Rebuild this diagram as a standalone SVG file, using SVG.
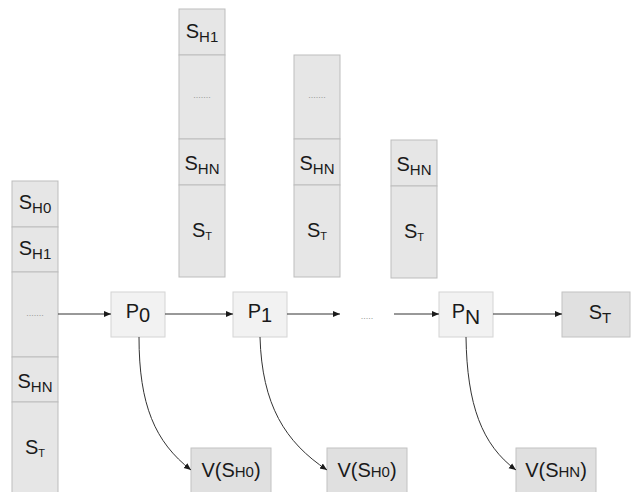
<svg xmlns="http://www.w3.org/2000/svg" width="632" height="492" viewBox="0 0 632 492">
<defs>
<marker id="arr" markerUnits="userSpaceOnUse" markerWidth="8" markerHeight="8" refX="7" refY="3.5" orient="auto">
<path d="M0,0.5 L7,3.5 L0,6.5 Z" fill="#1a1a1a"/>
</marker>
<style>
.cell{fill:#e6e6e6;stroke:#bdbdbd;stroke-width:1}
.proc{fill:#f2f2f2;stroke:#d4d4d4;stroke-width:1}
.box{fill:#e0e0e0;stroke:#c2c2c2;stroke-width:1}
text{font-family:"Liberation Sans",Arial,sans-serif;fill:#1a1a1a;text-anchor:middle}
.m{font-size:20px}
.s{font-size:15px}
.t{font-size:11px}
.dots{font-size:9px;fill:#9a9a9a}
.edge{fill:none;stroke:#333;stroke-width:1;marker-end:url(#arr)}
</style>
</defs>
<rect width="632" height="492" fill="#ffffff"/>

<g id="stack0">
<rect class="cell" x="12" y="181" width="46" height="46"/>
<rect class="cell" x="12" y="227" width="46" height="45"/>
<rect class="cell" x="12" y="272" width="46" height="85"/>
<rect class="cell" x="12" y="357" width="46" height="45"/>
<rect class="cell" x="12" y="402" width="46" height="92"/>
<text class="m" x="35" y="209">S<tspan class="s" dy="4">H0</tspan></text>
<text class="m" x="35" y="255">S<tspan class="s" dy="4">H1</tspan></text>
<text class="dots" x="35" y="316">.......</text>
<text class="m" x="35" y="388">S<tspan class="s" dy="4">HN</tspan></text>
<text class="m" x="35" y="454">S<tspan class="t" dy="3">T</tspan></text>
</g>

<g id="stack1">
<rect class="cell" x="179" y="9" width="46" height="46"/>
<rect class="cell" x="179" y="55" width="46" height="84"/>
<rect class="cell" x="179" y="139" width="46" height="46"/>
<rect class="cell" x="179" y="185" width="46" height="92"/>
<text class="m" x="202" y="38">S<tspan class="s" dy="4">H1</tspan></text>
<text class="dots" x="202" y="98">.......</text>
<text class="m" x="202" y="170">S<tspan class="s" dy="4">HN</tspan></text>
<text class="m" x="202" y="237">S<tspan class="t" dy="3">T</tspan></text>
</g>

<g id="stack2">
<rect class="cell" x="294" y="55" width="46" height="84"/>
<rect class="cell" x="294" y="139" width="46" height="46"/>
<rect class="cell" x="294" y="185" width="46" height="92"/>
<text class="dots" x="317" y="98">.......</text>
<text class="m" x="317" y="170">S<tspan class="s" dy="4">HN</tspan></text>
<text class="m" x="317" y="237">S<tspan class="t" dy="3">T</tspan></text>
</g>

<g id="stack3">
<rect class="cell" x="391" y="140" width="46" height="46"/>
<rect class="cell" x="391" y="186" width="46" height="92"/>
<text class="m" x="414" y="171">S<tspan class="s" dy="4">HN</tspan></text>
<text class="m" x="414" y="238">S<tspan class="t" dy="3">T</tspan></text>
</g>

<g id="p0">
<rect class="proc" x="111" y="292" width="54" height="45"/>
<text class="m" x="138" y="318">P<tspan dy="4">0</tspan></text>
</g>
<g id="p1">
<rect class="proc" x="233" y="292" width="54" height="45"/>
<text class="m" x="260" y="318">P<tspan dy="4">1</tspan></text>
</g>
<g id="ellipsis">
<text class="dots" x="367" y="319">.....</text>
</g>
<g id="pN">
<rect class="proc" x="439" y="292" width="54" height="45"/>
<text class="m" x="466" y="318">P<tspan font-size="21px" dy="6">N</tspan></text>
</g>
<g id="sT">
<rect class="box" x="562" y="292" width="68" height="45"/>
<text class="m" x="600" y="319">S<tspan class="s" dy="4">T</tspan></text>
</g>

<g id="v0">
<rect class="box" x="191" y="448" width="80" height="50"/>
<text class="m" x="231" y="477">V(S<tspan class="s">H0</tspan>)</text>
</g>
<g id="v1">
<rect class="box" x="327" y="448" width="80" height="50"/>
<text class="m" x="367" y="477">V(S<tspan class="s">H0</tspan>)</text>
</g>
<g id="vN">
<rect class="box" x="516" y="448" width="80" height="50"/>
<text class="m" x="556" y="477">V(S<tspan class="s">HN</tspan>)</text>
</g>

<g id="connectors">
<path class="edge" d="M58,314 L111,314"/>
<path class="edge" d="M165,314 L233,314"/>
<path class="edge" d="M287,314 L340,314"/>
<path class="edge" d="M394,314 L439,314"/>
<path class="edge" d="M493,314 L562,314"/>
<path class="edge" d="M139,337 C139,405 155,442 191,470"/>
<path class="edge" d="M260,337 C262,405 285,442 327,470"/>
<path class="edge" d="M466,337 C467,405 482,445 516,470"/>
</g>
</svg>
